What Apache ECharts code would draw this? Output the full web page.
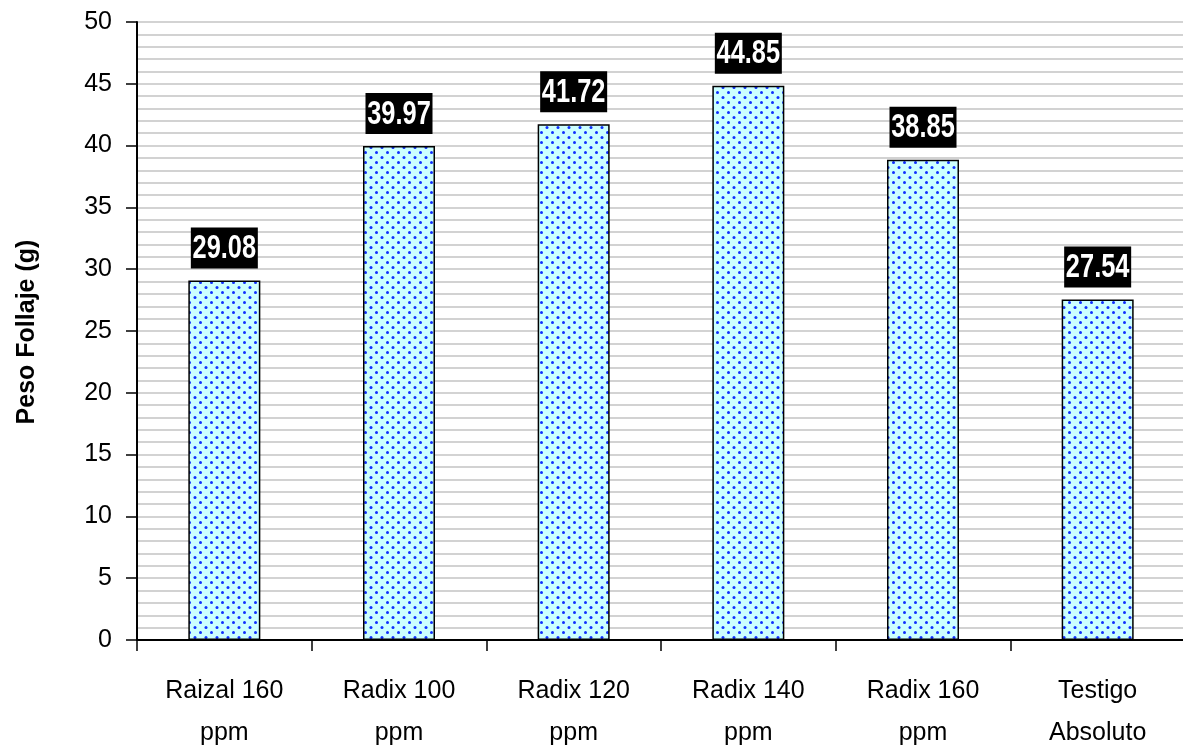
<!DOCTYPE html>
<html>
<head>
<meta charset="utf-8">
<script src="https://cdn.jsdelivr.net/npm/echarts@6/dist/echarts.min.js"></script>
<style>
  html, body { margin: 0; padding: 0; background: #ffffff; }
  #chart { width: 1183px; height: 747px; }
</style>
</head>
<body>
<div id="chart"></div>
<script>
// Treatments and mean foliage weight (g)
const categories = ['Raizal 160\nppm', 'Radix 100\nppm', 'Radix 120\nppm', 'Radix 140\nppm', 'Radix 160\nppm', 'Testigo\nAbsoluto'];
const weights = [29.08, 39.97, 41.72, 44.85, 38.85, 27.54];
const yTicks = { min: 0, max: 50, interval: 5 };
const yTitle = 'Peso Follaje (g)';

// Light cyan fill with a staggered grid of blue dots
function dotPattern() {
  const c = document.createElement('canvas');
  c.width = 11; c.height = 10;
  const g = c.getContext('2d');
  g.fillStyle = '#ccffff';
  g.fillRect(0, 0, 11, 10);
  g.fillStyle = '#0f30ff';
  [[2.5, 2.5], [8, 7.5]].forEach(([x, y]) => {
    g.beginPath();
    g.arc(x, y, 1.5, 0, Math.PI * 2);
    g.fill();
  });
  return c;
}

const font = "'Liberation Sans', Arial, sans-serif";
const gridGray = '#c4c4c4';

// Black value tag above each bar, with condensed bold white text
function renderValueTag(params, api) {
  const p = api.coord([api.value(0), api.value(1)]);
  const w = 67, h = 41, gap = 12;
  const top = p[1] - gap - h;
  return {
    type: 'group',
    children: [
      { type: 'rect', shape: { x: p[0] - w / 2, y: top, width: w, height: h }, style: { fill: '#000' } },
      {
        type: 'text',
        x: p[0], y: top + h / 2 + 1,
        scaleX: 0.77,
        style: {
          text: api.value(1).toFixed(2),
          fill: '#fff',
          font: 'bold 33px ' + font,
          align: 'center',
          verticalAlign: 'middle'
        }
      }
    ]
  };
}

const chart = echarts.init(document.getElementById('chart'), null, { renderer: 'canvas' });
chart.setOption({
  animation: false,
  backgroundColor: '#ffffff',
  grid: { left: 137, right: -2, top: 22, bottom: 107, containLabel: false, outerBoundsMode: 'none' },
  xAxis: {
    type: 'category',
    data: categories,
    boundaryGap: true,
    axisLine: { show: true, lineStyle: { color: '#000', width: 2 } },
    axisTick: { show: true, interval: 0, length: 11, lineStyle: { color: '#000', width: 1.5 } },
    axisLabel: { interval: 0, margin: 30, color: '#000', fontFamily: font, fontSize: 25, lineHeight: 42 },
    splitLine: { show: false }
  },
  yAxis: {
    type: 'value',
    min: yTicks.min,
    max: yTicks.max,
    interval: yTicks.interval,
    axisLine: { show: true, lineStyle: { color: '#000', width: 2 } },
    axisTick: { show: true, inside: false, length: 11, lineStyle: { color: '#000', width: 1.5 } },
    axisLabel: { margin: 25, color: '#000', fontFamily: font, fontSize: 25 },
    splitLine: { show: true, lineStyle: { color: gridGray, width: 1.5 } },
    minorTick: { show: false, splitNumber: 5 },
    minorSplitLine: { show: true, lineStyle: { color: gridGray, width: 1.5 } }
  },
  graphic: [{
    type: 'text',
    x: 27,
    y: 332,
    rotation: Math.PI / 2,
    style: {
      text: yTitle,
      fill: '#000',
      font: "bold 25px " + font,
      textAlign: 'center',
      textVerticalAlign: 'middle'
    }
  }],
  series: [{
    type: 'bar',
    data: weights,
    barWidth: 72,
    itemStyle: {
      color: { image: dotPattern(), repeat: 'repeat' },
      borderColor: '#000',
      borderWidth: 1.5
    }
  }, {
    type: 'custom',
    data: weights.map((v, i) => [i, v]),
    renderItem: renderValueTag,
    clip: false,
    z: 5
  }]
});
</script>
</body>
</html>
